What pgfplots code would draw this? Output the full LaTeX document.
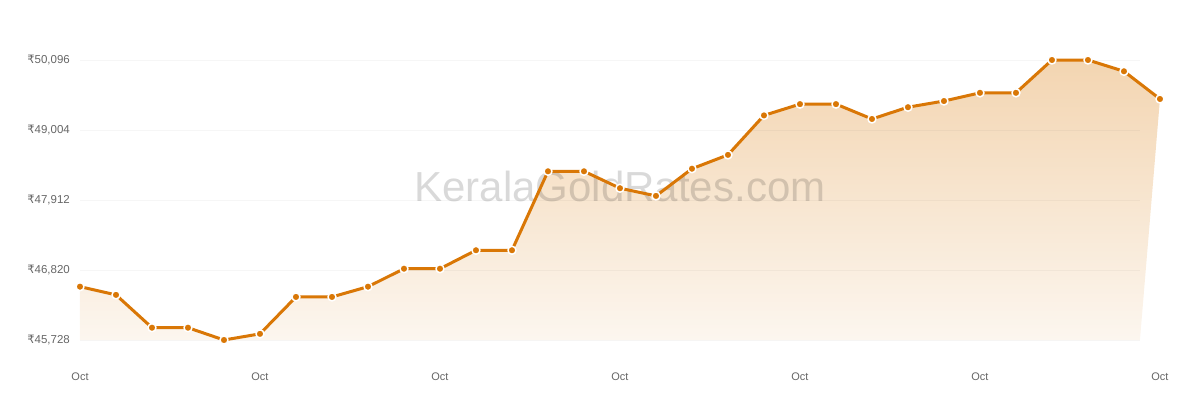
\documentclass[border=0pt]{standalone}
\usepackage{pgfplots}
\pgfplotsset{compat=1.18}
\usepackage{pgfplotstable}
\usepackage{fontspec}
\setmainfont{Liberation Sans}
\newfontfamily\rupeefont{DejaVu Sans}
\newcommand{\rs}{{\rupeefont\char"20B9}}

\definecolor{goldline}{HTML}{D97706}
\definecolor{filltop}{HTML}{F3D5B1}
\definecolor{fillbot}{HTML}{FCF6EF}
\definecolor{labelgray}{HTML}{666666}

% daily rate, 8 g, 31 days
\pgfplotstableread{
day rate
0  46560
1  46432
2  45920
3  45920
4  45728
5  45824
6  46400
7  46400
8  46560
9  46840
10 46840
11 47128
12 47128
13 48360
14 48360
15 48096
16 47976
17 48400
18 48616
19 49232
20 49408
21 49408
22 49176
23 49360
24 49456
25 49584
26 49584
27 50096
28 50096
29 49920
30 49488
}\ratetable

\begin{document}
\begin{tikzpicture}
\useasboundingbox (-80pt,-60pt) rectangle (1120pt,340pt);
\begin{axis}[
    scale only axis,
    width=1080pt,
    height=280pt,
    xmin=0, xmax=30,
    ymin=45728, ymax=50096,
    clip=false,
    axis line style={draw=none},
    major tick length=0pt,
    scaled y ticks=false,
    xtick={0,5,10,15,20,25,30},
    xticklabels={Oct,Oct,Oct,Oct,Oct,Oct,Oct},
    ytick={45728,46820,47912,49004,50096},
    yticklabels={{\rs45,728},{\rs46,820},{\rs47,912},{\rs49,004},{\rs50,096}},
    xticklabel style={font=\fontsize{11}{13}\selectfont, text=labelgray,
        anchor=north, inner sep=0pt, yshift=-33pt},
    yticklabel style={font=\fontsize{11.5}{13}\selectfont, text=labelgray,
        anchor=east, inner sep=0pt, xshift=-10pt},
]
% area under the line
\addplot[draw=none, shading=axis, top color=filltop, bottom color=fillbot]
coordinates {
(0,46560)(1,46432)(2,45920)(3,45920)(4,45728)(5,45824)(6,46400)(7,46400)
(8,46560)(9,46840)(10,46840)(11,47128)(12,47128)(13,48360)(14,48360)
(15,48096)(16,47976)(17,48400)(18,48616)(19,49232)(20,49408)(21,49408)
(22,49176)(23,49360)(24,49456)(25,49584)(26,49584)(27,50096)(28,50096)
(29,49920)(30,49488)(29.444,45728)
} \closedcycle;

% grid
\foreach \v in {45728,46820,47912,49004,50096} {
  \edef\temp{\noexpand\draw[black, opacity=0.035, line width=1pt]
    (axis cs:0,\v) -- (axis cs:29.444,\v);}
  \temp
}

% watermark
\node[text=black, text opacity=0.15, font=\fontsize{42}{48}\selectfont]
  at (axis cs:15,48130) {KeralaGoldRates.com};

\addplot[goldline, line width=3pt, line join=round,
    mark=*, mark size=4pt,
    mark options={fill=goldline, draw=white, line width=1.5pt}]
  table[x=day, y=rate] {\ratetable};
\end{axis}
\end{tikzpicture}
\end{document}
